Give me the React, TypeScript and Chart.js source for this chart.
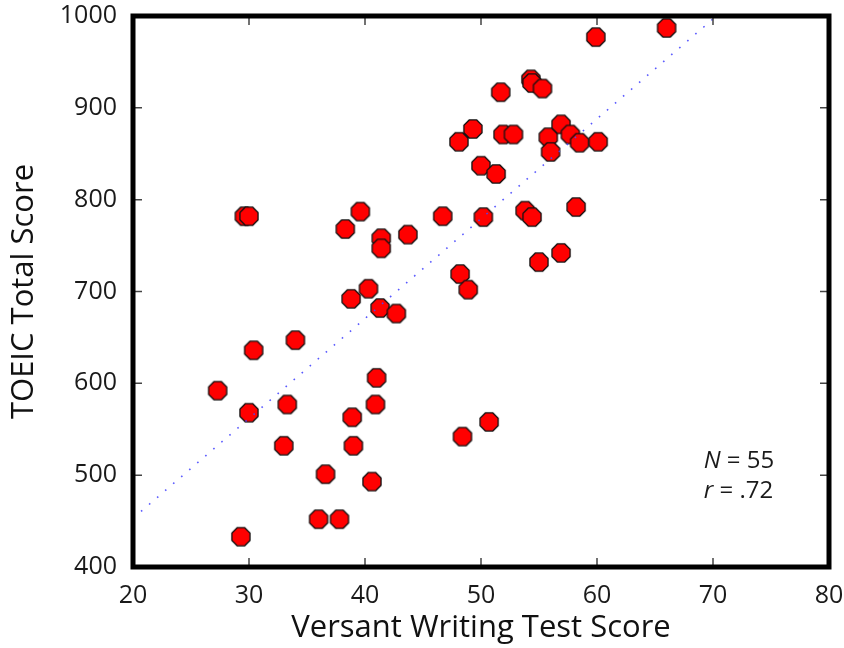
import React, { useEffect, useRef } from "react";
import { Chart, registerables } from "chart.js";

Chart.register(...registerables);

// Versant Writing Test Score (x) and TOEIC Total Score (y)
const versantScores: number[] = [
  27.3, 29.3, 29.6, 30.0, 30.0, 30.4, 33.0, 33.3, 34.0, 36.0,
  36.6, 37.8, 38.3, 38.8, 38.9, 39.0, 39.6, 40.3, 40.6, 40.9,
  41.0, 41.4, 41.4, 41.3, 42.7, 43.7, 46.7, 48.1, 48.2, 48.4,
  48.9, 49.3, 50.0, 50.2, 50.7, 51.3, 51.7, 51.9, 52.8, 53.8,
  54.3, 54.4, 54.4, 55.0, 55.3, 55.8, 56.0, 56.9, 56.9, 57.7,
  58.5, 58.2, 60.1, 59.9, 66.0,
];
const toeicScores: number[] = [
  592, 433, 782, 782, 568, 636, 532, 577, 647, 452,
  501, 452, 768, 692, 563, 532, 787, 703, 493, 577,
  606, 758, 747, 682, 676, 762, 782, 863, 719, 542,
  702, 877, 837, 781, 558, 828, 917, 871, 871, 788,
  931, 927, 781, 732, 921, 868, 852, 742, 882, 871,
  862, 792, 863, 977, 987,
];

// Regression line end points
const trendX: number[] = [20, 70.3];
const trendY: number[] = [453, 1000];

const xTickValues: number[] = [20, 30, 40, 50, 60, 70, 80];
const yTickValues: number[] = [400, 500, 600, 700, 800, 900, 1000];

const statsLines: { label: string; value: string }[] = [
  { label: "N", value: " = 55" },
  { label: "r", value: " = .72" },
];
const statsX = 69.2;
const statsY: number[] = [508, 475];

const xTitle = "Versant Writing Test Score";
const yTitle = "TOEIC Total Score";

function makeOctagon(): HTMLCanvasElement {
  const size = 24;
  const c = document.createElement("canvas");
  c.width = size;
  c.height = size;
  const ctx = c.getContext("2d")!;
  const r = 9.8;
  const cx = size / 2;
  const cy = size / 2;
  ctx.beginPath();
  for (let i = 0; i < 8; i++) {
    const a = Math.PI / 8 + (i * Math.PI) / 4;
    const px = cx + r * Math.cos(a);
    const py = cy + r * Math.sin(a);
    if (i === 0) ctx.moveTo(px, py);
    else ctx.lineTo(px, py);
  }
  ctx.closePath();
  ctx.fillStyle = "#ff0000";
  ctx.fill();
  ctx.lineWidth = 1.3;
  ctx.strokeStyle = "#111111";
  ctx.stroke();
  return c;
}

const zeroPad = (s: any) => {
  s.paddingLeft = 0;
  s.paddingRight = 0;
  s.paddingTop = 0;
  s.paddingBottom = 0;
};

const framePlugin = {
  id: "frameTicks",
  afterDraw(chart: any) {
    const { ctx, chartArea, scales } = chart;
    const { left, right, top, bottom } = chartArea;
    ctx.save();
    // ticks (inward)
    ctx.strokeStyle = "#444";
    ctx.lineWidth = 1.5;
    const tl = 9;
    xTickValues.forEach((v) => {
      const px = scales.x.getPixelForValue(v);
      ctx.beginPath();
      ctx.moveTo(px, bottom);
      ctx.lineTo(px, bottom - tl);
      ctx.moveTo(px, top);
      ctx.lineTo(px, top + tl);
      ctx.stroke();
    });
    yTickValues.forEach((v) => {
      const py = scales.y.getPixelForValue(v);
      ctx.beginPath();
      ctx.moveTo(left, py);
      ctx.lineTo(left + tl, py);
      ctx.moveTo(right, py);
      ctx.lineTo(right - tl, py);
      ctx.stroke();
    });
    // frame
    ctx.strokeStyle = "#000";
    ctx.lineWidth = 5;
    ctx.strokeRect(left, top, right - left, bottom - top);
    // stats text
    ctx.fillStyle = "#1a1a1a";
    ctx.textBaseline = "alphabetic";
    ctx.textAlign = "left";
    statsLines.forEach((s, i) => {
      const x = scales.x.getPixelForValue(statsX);
      const y = scales.y.getPixelForValue(statsY[i]);
      ctx.font = "italic 24px 'Open Sans'";
      ctx.fillText(s.label, x, y);
      const w = ctx.measureText(s.label).width;
      ctx.font = "24px 'Open Sans'";
      ctx.fillText(s.value, x + w, y);
    });
    ctx.restore();
  },
};

export default function App() {
  const canvasRef = useRef<HTMLCanvasElement | null>(null);

  useEffect(() => {
    if (!canvasRef.current) return;
    const octagon = makeOctagon();
    const points = versantScores.map((x, i) => ({ x, y: toeicScores[i] }));
    const trend = trendX.map((x, i) => ({ x, y: trendY[i] }));
    const chart = new Chart(canvasRef.current, {
      type: "scatter",
      data: {
        datasets: [
          {
            type: "line",
            label: "trend",
            data: trend,
            borderColor: "rgba(70,70,255,0.9)",
            borderWidth: 1.6,
            borderDash: [1.6, 9],
            pointRadius: 0,
            fill: false,
            order: 0,
          } as any,
          {
            label: "scores",
            data: points,
            pointStyle: octagon as any,
            pointRadius: 10,
            order: 1,
          },
        ],
      },
      plugins: [framePlugin],
      options: {
        animation: false,
        responsive: false,
        devicePixelRatio: 1,
        layout: { padding: { left: 0, right: 15, top: 16, bottom: 0 } },
        plugins: {
          legend: { display: false },
          tooltip: { enabled: false },
        },
        scales: {
          x: {
            type: "linear",
            min: 20,
            max: 80,
            afterFit: (s: any) => {
              s.height = 81;
              zeroPad(s);
            },
            ticks: {
              stepSize: 10,
              padding: 14,
              color: "#1a1a1a",
              font: { family: "'Open Sans'", size: 25 },
              callback: (v: any) => String(v),
            },
            grid: { display: false, drawTicks: false },
            border: { display: false },
            title: {
              display: true,
              text: xTitle,
              color: "#111",
              font: { family: "'Open Sans'", size: 31 },
              padding: { top: 0, bottom: 1 },
            },
          },
          y: {
            type: "linear",
            min: 400,
            max: 1000,
            afterFit: (s: any) => {
              s.width = 133;
              zeroPad(s);
            },
            ticks: {
              stepSize: 100,
              padding: 16,
              color: "#1a1a1a",
              font: { family: "'Open Sans'", size: 25 },
              callback: (v: any) => String(v),
            },
            grid: { display: false, drawTicks: false },
            border: { display: false },
            title: {
              display: true,
              text: yTitle,
              color: "#111",
              font: { family: "'Open Sans'", size: 31 },
              padding: { top: 6, bottom: 0 },
            },
          },
        },
      },
    });
    return () => chart.destroy();
  }, []);

  return (
    <div style={{ position: "fixed", left: 0, top: 0, width: 844, height: 648, background: "#fff" }}>
      <canvas ref={canvasRef} width={844} height={648} style={{ width: 844, height: 648 }} />
    </div>
  );
}
